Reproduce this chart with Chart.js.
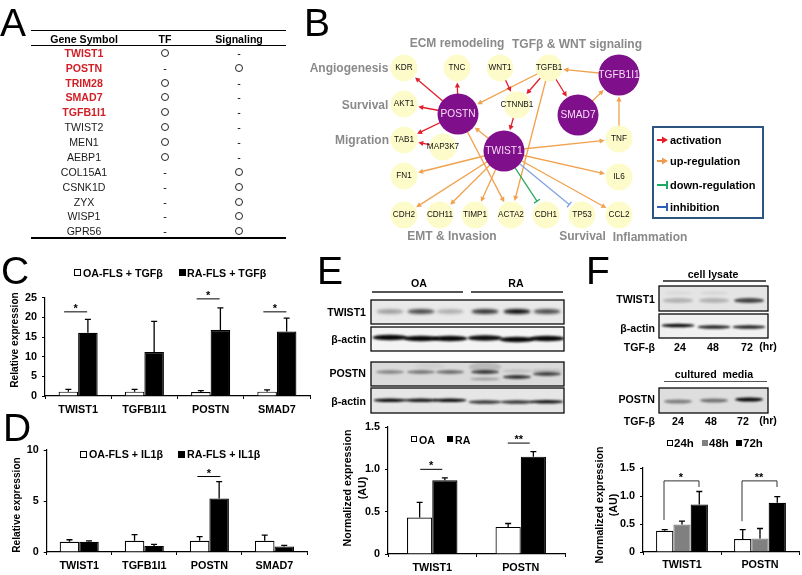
<!DOCTYPE html>
<html><head><meta charset="utf-8">
<script src="https://cdn.jsdelivr.net/npm/chart.js@4"></script>
<style>
html,body{margin:0;padding:0;background:#fff;overflow:hidden}
#page{position:relative;width:802px;height:575px;font-family:"Liberation Sans",Arial,sans-serif;color:#000;filter:blur(.35px);overflow:hidden}
#page canvas{position:absolute}
.t{position:absolute;white-space:nowrap;line-height:1}
.l{position:absolute;background:#000}
.sq{position:absolute;box-sizing:border-box;border:1px solid #000}
.o{position:absolute;box-sizing:border-box;width:8px;height:8px;border:1px solid #222;border-radius:50%}
</style></head><body><div id="page"></div>
<script>
// ---------- Panel A ----------
const tableGenes=['TWIST1','POSTN','TRIM28','SMAD7','TGFB1I1','TWIST2','MEN1','AEBP1','COL15A1','CSNK1D','ZYX','WISP1','GPR56'];
const tableHighlighted=5;
const tableTF=[1,0,1,1,1,1,1,1,0,0,0,0,0];
const tableSignaling=[0,1,0,0,0,0,0,0,1,1,1,1,1];
// ---------- Panel C ----------
const cCategories=['TWIST1','TGFB1I1','POSTN','SMAD7'];
const cOA=[1.1,1.1,1.0,1.1], cOATop=[1.7,1.7,1.35,1.55];
const cRA=[16.1,11.2,16.8,16.4], cRATop=[19.5,19.0,22.4,19.8];
const cTicks=[0,5,10,15,20,25];
// ---------- Panel D ----------
const dOA=[1.0,1.1,1.1,1.1], dOATop=[1.2,1.7,1.5,1.65];
const dRA=[1.0,0.6,5.25,0.55], dRATop=[1.1,0.75,6.9,0.65];
const dTicks=[0,5,10];
// ---------- Panel E ----------
const eCategories=['TWIST1','POSTN'];
const eOA=[0.43,0.32], eOATop=[0.61,0.36];
const eRA=[0.87,1.15], eRATop=[0.90,1.21];
const eTicks=[0,0.5,1,1.5];
// ---------- Panel F ----------
const f24=[0.38,0.23], f24Top=[0.40,0.40];
const f48=[0.49,0.24], f48Top=[0.55,0.42];
const f72=[0.85,0.88], f72Top=[1.08,0.99];
// ---------- Panel B ----------
const nodeNames=['KDR','TNC','WNT1','TGFB1','AKT1','CTNNB1','TAB1','MAP3K7','TNF','FN1','IL6','CDH2','CDH11','TIMP1','ACTA2','CDH1','TP53','CCL2','TGFB1I1','POSTN','SMAD7','TWIST1'];
const nodeX=[404,457,500,549,404,517,404,443,619,404,619,404,440,475,511,546,582,619,619,458,578,504];
const nodeY=[68,68,68,68,104,105,140,147,139,176,177,215,215,215,215,215,215,215,75,114,115,151];
const hubNames=['TGFB1I1','POSTN','SMAD7','TWIST1'];
const activationEdges=[['POSTN','KDR'],['POSTN','TNC'],['POSTN','AKT1'],['POSTN','TAB1'],['WNT1','CTNNB1'],['TGFB1','CTNNB1'],['TGFB1','SMAD7'],['CTNNB1','TWIST1'],['MAP3K7','TAB1']];
const upEdges=[['TGFB1I1','TGFB1'],['TGFB1','POSTN'],['TGFB1','ACTA2'],['SMAD7','TGFB1I1'],['TNF','TGFB1I1'],['TWIST1','POSTN'],['POSTN','ACTA2'],['TWIST1','TNF'],['TWIST1','FN1'],['TWIST1','IL6'],['TWIST1','CDH2'],['TWIST1','CDH11'],['TWIST1','TIMP1'],['TWIST1','CCL2']];
const downEdges=[['TWIST1','CDH1']];
const inhibitEdges=[['TWIST1','TP53']];
const groupLabels=['ECM remodeling','TGFβ & WNT signaling','Angiogenesis','Survival','Migration','EMT & Invasion','Survival','Inflammation'];
const legendLabels=['activation','up-regulation','down-regulation','inhibition'];

const page=document.getElementById('page');
function T(s,x,y,o={}){const d=document.createElement('div');d.className='t';d.textContent=s;
 const ax=o.a==='r'?'-100%':o.a==='l'?'0':'-50%';
 d.style.cssText=`left:${x}px;top:${y}px;font-size:${o.s||10.6}px;font-weight:${o.b===false?'normal':'bold'};color:${o.c||'#000'};transform:translate(${ax},-50%)${o.rot?' rotate(-90deg)':''};${o.ls?'letter-spacing:'+o.ls+'px;':''}`;
 page.appendChild(d);return d;}
function L(x,y,w,h,c){const d=document.createElement('div');d.className='l';d.style.cssText=`left:${x}px;top:${y}px;width:${w}px;height:${h}px;background:${c||'#000'}`;page.appendChild(d);}
function SQ(x,y,w,fill,border){const d=document.createElement('div');d.className='sq';d.style.cssText=`left:${x}px;top:${y}px;width:${w}px;height:${w}px;background:${fill};border-color:${border||'#000'}`;page.appendChild(d);}

// panel letters
[['A',0,21.5],['B',304,21.5],['C',1,270],['D',3,427],['E',317,270],['F',586,270]].forEach(p=>T(p[0],p[1],p[2],{a:'l',s:39,b:false}));

// ---- table A
L(31,30,255,1.3);L(31,44.6,255,1.3);L(31,237.4,255,1.5);
T('Gene Symbol',84,38.5);T('TF',165,38.5);T('Signaling',239,38.5);
tableGenes.forEach((g,i)=>{const y=52.8+i*14.87;
 T(g,84,y,{b:i<tableHighlighted,c:i<tableHighlighted?'#d11f26':'#1a1a1a'});
 [[165,tableTF[i]],[239,tableSignaling[i]]].forEach(([x,v])=>{
  if(v){const o=document.createElement('div');o.className='o';o.style.left=(x-4)+'px';o.style.top=(y-4)+'px';page.appendChild(o);}
  else T('-',x,y,{b:false});});});

// ---- western blot images (band darkness per lane)
const blots=document.createElement('canvas');blots.width=802;blots.height=575;blots.style.left='0';blots.style.top='0';page.appendChild(blots);
const eLanes=[390,421,450,485,517,547], fLanes=[678,714,749];
const blotTwistE=[.32,.7,.25,.8,.98,.7], blotActinE1=[1,1,1,.98,1,1], blotPostnE=[.38,.45,.5,.75,.8,.72], blotActinE2=[1,.95,1,.8,.8,.95];
const blotTwistF=[.22,.22,.72], blotActinF=[1,.9,.9], blotPostnF=[.45,.5,1];
function blot(x,y,w,h,bg,laneX,vals,cy,bw,bh,off,extra,blur){const c=blots.getContext('2d');c.save();
 c.beginPath();c.rect(x,y,w,h);c.clip();c.fillStyle=bg;c.fillRect(x,y,w,h);
 c.filter=`blur(${blur||1}px)`;
 (extra||[]).forEach(e=>{c.fillStyle=`rgba(20,20,20,${e[4]})`;c.beginPath();c.ellipse(e[0],e[1],e[2]/2,e[3]/2,0,0,Math.PI*2);c.fill();});
 laneX.forEach((lx,i)=>{const v=vals[i];c.fillStyle=`rgba(8,8,8,${v})`;c.beginPath();
  c.ellipse(lx,cy+(off?off[i]:0),bw/2,bh/2,0,0,Math.PI*2);c.fill();});
 c.restore();c.save();c.strokeStyle='#0a0a0a';c.lineWidth=1.3;c.strokeRect(x,y,w,h);c.restore();}
blot(371,300,193,24,'#e9e9e9',eLanes,blotTwistE,311.5,27,5,[0,0,0,0,0,0],null,1.4);
blot(371,327,193,24,'#f4f4f4',eLanes,blotActinE1,338.5,35,5.5,[-1,0,0,-.5,1,0]);
blot(371,362,193,24,'#dadada',eLanes,blotPostnE,372,28,3.8,[0,0,0,0,5,2],[[485,367,32,9,.16],[485,379,30,3,.3],[517,371,30,3,.15],[547,371,30,4,.15],[430,366,30,6,.05]],1.1);
blot(371,388,193,25,'#e6e6e6',eLanes,blotActinE2,401,33,3.6,[-.8,-.8,-.8,1,1,.8]);
blot(659,286,109,25,'#e4e4e4',fLanes,blotTwistF,300.5,30,5,null,[[678,293,28,3,.05],[714,293,28,3,.07]],1.3);
blot(659,314,109,24,'#f1f1f1',fLanes,blotActinF,326.5,33,3.6,[-1,.5,.5]);
blot(659,388,109,25,'#dedede',fLanes,blotPostnF,400.5,28,4,[1,0,-1],null,1);

// panel E labels
T('OA',419,283);T('RA',516,283);L(372,291.3,91,1.4,'#555');L(471,291.3,92,1.4,'#555');
T('TWIST1',366,312,{a:'r'});T('β-actin',366,339,{a:'r'});T('POSTN',366,373,{a:'r'});T('β-actin',366,401,{a:'r'});
// panel F labels
T('cell lysate',713,274);L(663,280.3,103,1.3,'#555');
T('TWIST1',655,299,{a:'r'});T('β-actin',655,328,{a:'r'});T('TGF-β',655,347,{a:'r'});
T('24',680,347);T('48',713,347);T('72',747,347);T('(hr)',768,346);
T('cultured\u00a0\u00a0media',714,374);L(664,380.6,103,1.3,'#555');
T('POSTN',655,399,{a:'r'});T('TGF-β',655,421,{a:'r'});
T('24',678,421);T('48',711,421);T('72',743,421);T('(hr)',768,420);

// legends
SQ(74,269,7,'#fff');T('OA-FLS + TGFβ',83,272.7,{a:'l',s:10.7});
SQ(179,269,7,'#000');T('RA-FLS + TGFβ',187,272.7,{a:'l',s:10.7});
SQ(80,450.5,7,'#fff');T('OA-FLS + IL1β',89,454.3,{a:'l',s:10.7});
SQ(178,450.5,7,'#000');T('RA-FLS + IL1β',187,454.3,{a:'l',s:10.7});
SQ(411,436,6,'#fff');T('OA',419,439.5,{a:'l'});
SQ(447,436,6,'#000');T('RA',455,439.5,{a:'l'});
SQ(667,440,6,'#fff');T('24h',674,443.5,{a:'l',s:11.5});
SQ(702,440,6,'#808080','#808080');T('48h',709,443.5,{a:'l',s:11.5});
SQ(736,440,6,'#000');T('72h',743,443.5,{a:'l',s:11.5});
// y titles
T('Relative expression',15,340,{rot:1,s:10.2});
T('Relative expression',17,504.5,{rot:1,s:10.2});
T('Normalized expression',347,488,{rot:1,s:10.7});T('(AU)',362,488,{rot:1,s:10.7});
T('Normalized expression',599,505,{rot:1,s:10.7});T('(AU)',613,505,{rot:1,s:10.7});

// ---- plugins
const errorBars={id:'errorBars',afterDatasetsDraw(ch){const c=ch.ctx;c.save();c.strokeStyle='#000';c.lineWidth=1.3;
 ch.data.datasets.forEach((ds,di)=>{ch.getDatasetMeta(di).data.forEach((b,i)=>{
  const top=ch.scales.y.getPixelForValue(ds.errTop[i]);
  c.beginPath();c.moveTo(b.x,b.y);c.lineTo(b.x,top);c.moveTo(b.x-3,top);c.lineTo(b.x+3,top);c.stroke();});});
 c.restore();}};
const sigLines={id:'sigLines',afterDraw(ch,a,opt){const c=ch.ctx;c.save();c.strokeStyle='#000';c.fillStyle='#000';c.lineWidth=1;c.font='bold 11px "Liberation Sans"';c.textAlign='center';c.textBaseline='alphabetic';
 (opt.bars||[]).forEach(s=>{const cx=ch.scales.x.getPixelForValue(s.cat)+s.dx,y=ch.scales.y.getPixelForValue(s.level);
  c.beginPath();c.moveTo(cx-s.w/2,y);c.lineTo(cx+s.w/2,y);c.stroke();c.fillText(s.mark,cx,y+s.up);});
 (opt.brackets||[]).forEach(s=>{const cx=ch.scales.x.getPixelForValue(s.cat),Y=ch.scales.y,l=cx+s.left,r=cx+s.right;
  c.beginPath();c.moveTo(l,Y.getPixelForValue(s.from));c.lineTo(l,Y.getPixelForValue(s.top));c.lineTo(r,Y.getPixelForValue(s.top));c.lineTo(r,Y.getPixelForValue(s.to));c.strokeStyle='#333';c.stroke();
  c.fillText(s.mark,cx+s.dx,Y.getPixelForValue(s.top)+s.up);});
 c.restore();}};

function barChart(rect,plot,labels,series,ticks,yMax,frac,sig){
 const cv=document.createElement('canvas');cv.style.left=rect[0]+'px';cv.style.top=rect[1]+'px';cv.style.width=rect[2]+'px';cv.style.height=rect[3]+'px';cv.width=rect[2];cv.height=rect[3];page.appendChild(cv);
 const font={family:'"Liberation Sans"',size:10.8,weight:'bold'};
 return new Chart(cv,{type:'bar',data:{labels,datasets:series.map(s=>({label:s.label,data:s.data,errTop:s.top,backgroundColor:s.fill,borderColor:s.border||'#000',borderWidth:1.2,barPercentage:1,categoryPercentage:frac}))},
 options:{responsive:false,animation:false,layout:{autoPadding:false,padding:{left:0,top:plot.top-rect[1],right:rect[0]+rect[2]-plot.right,bottom:0}},
  plugins:{legend:{display:false},title:{display:false},tooltip:{enabled:false},sigLines:sig},
  scales:{x:{afterFit(s){s.height=rect[1]+rect[3]-plot.bottom},grid:{display:true,drawOnChartArea:false,color:'#000',tickLength:3,lineWidth:1},border:{color:'#000',width:1.2},ticks:{color:'#000',font,autoSkip:false,maxRotation:0,padding:plot.xpad}},
   y:{min:0,max:yMax,afterFit(s){s.width=plot.left-rect[0]},afterBuildTicks(s){s.ticks=ticks.map(v=>({value:v}))},grid:{display:true,drawOnChartArea:false,color:'#000',tickLength:3,lineWidth:1},border:{color:'#000',width:1.2},ticks:{color:'#000',font,padding:5}}}},
 plugins:[errorBars,sigLines]});
}
barChart([0,285,330,130],{left:45,right:310,top:297.7,bottom:396,xpad:5},cCategories,
 [{label:'OA-FLS + TGFβ',data:cOA,top:cOATop,fill:'#fff'},{label:'RA-FLS + TGFβ',data:cRA,top:cRATop,fill:'#000'}],cTicks,25,.59,
 {bars:[{cat:0,dx:-2.5,w:23,level:21.4,mark:'*',up:0},{cat:2,dx:-2.5,w:23,level:24.7,mark:'*',up:0},{cat:3,dx:-2,w:23,level:21.4,mark:'*',up:0}]});
barChart([0,438,330,135],{left:46.7,right:307,top:450,bottom:552,xpad:5},cCategories,
 [{label:'OA-FLS + IL1β',data:dOA,top:dOATop,fill:'#fff'},{label:'RA-FLS + IL1β',data:dRA,top:dRATop,fill:'#000'}],dTicks,10,.6,
 {bars:[{cat:2,dx:-.5,w:23,level:7.4,mark:'*',up:0}]});
barChart([350,415,225,160],{left:388,right:565,top:427,bottom:554,xpad:5},eCategories,
 [{label:'OA',data:eOA,top:eOATop,fill:'#fff'},{label:'RA',data:eRA,top:eRATop,fill:'#000'}],eTicks,1.5,.57,
 {bars:[{cat:0,dx:-1,w:22,level:1.0,mark:'*',up:0},{cat:1,dx:-2,w:22,level:1.31,mark:'**',up:0}]});
barChart([600,456,202,119],{left:643,right:799,top:468,bottom:552,xpad:4},eCategories,
 [{label:'24h',data:f24,top:f24Top,fill:'#fff'},{label:'48h',data:f48,top:f48Top,fill:'#808080',border:'#808080'},{label:'72h',data:f72,top:f72Top,fill:'#000'}],eTicks,1.5,.665,
 {brackets:[{cat:0,left:-18,right:17,from:.57,top:1.27,to:1.16,mark:'*',dx:-1,up:0},{cat:1,left:-18,right:17,from:.55,top:1.27,to:1.16,mark:'**',dx:-1,up:0}]});

// ---- network B
const C_RED='#e1202c',C_ORG='#f0a24e',C_GRN='#2aa85a',C_BLU='#7fa3e0';
const cvN=document.createElement('canvas');cvN.style.left='300px';cvN.style.top='0';cvN.width=502;cvN.height=250;cvN.style.width='502px';cvN.style.height='250px';page.appendChild(cvN);
const idx=n=>nodeNames.indexOf(n), isHub=n=>hubNames.includes(n), rad=n=>isHub(n)?20.5:13.5;
const netPlugin={id:'net',
 beforeDatasetsDraw(ch){const c=ch.ctx,X=ch.scales.x,Y=ch.scales.y;
  const draw=(edges,col,kind)=>edges.forEach(([a,b])=>{const i=idx(a),j=idx(b);
   const x1=X.getPixelForValue(nodeX[i]),y1=Y.getPixelForValue(nodeY[i]),x2=X.getPixelForValue(nodeX[j]),y2=Y.getPixelForValue(nodeY[j]);
   const d=Math.hypot(x2-x1,y2-y1),ux=(x2-x1)/d,uy=(y2-y1)/d,tx=x2-ux*(rad(b)+1),ty=y2-uy*(rad(b)+1);
   c.strokeStyle=col;c.fillStyle=col;c.lineWidth=1.3;c.beginPath();c.moveTo(x1,y1);c.lineTo(tx-ux*2,ty-uy*2);c.stroke();
   if(kind==='arrow'){c.beginPath();c.moveTo(tx,ty);c.lineTo(tx-ux*5-uy*2.6,ty-uy*5+ux*2.6);c.lineTo(tx-ux*5+uy*2.6,ty-uy*5-ux*2.6);c.closePath();c.fill();}
   else{c.beginPath();c.moveTo(tx-ux*2-uy*3.5,ty-uy*2+ux*3.5);c.lineTo(tx-ux*2+uy*3.5,ty-uy*2-ux*3.5);c.stroke();}});
  c.save();draw(upEdges,C_ORG,'arrow');draw(activationEdges,C_RED,'arrow');draw(downEdges,C_GRN,'bar');draw(inhibitEdges,C_BLU,'bar');c.restore();},
 afterDatasetsDraw(ch){const c=ch.ctx,X=ch.scales.x,Y=ch.scales.y;c.save();c.textAlign='center';c.textBaseline='middle';
  nodeNames.forEach((n,i)=>{const hub=isHub(n);c.font=hub?'10.2px "Liberation Sans"':'8.2px "Liberation Sans"';c.fillStyle=hub?'#f6dcf6':'#111';c.fillText(n,X.getPixelForValue(nodeX[i]),Y.getPixelForValue(nodeY[i]));});
  // legend glyphs
  const cols=[C_RED,'#f09a50','#1fa860','#2f5fb8'],ly=[140,161,185,207];
  cols.forEach((col,i)=>{const y=Y.getPixelForValue(ly[i]),x=X.getPixelForValue(657);c.fillStyle=col;c.strokeStyle=col;c.lineWidth=2;c.beginPath();c.moveTo(x,y);
   if(i<2){c.lineTo(x+7,y);c.stroke();c.beginPath();c.moveTo(x+11,y);c.lineTo(x+5,y-3.5);c.lineTo(x+5,y+3.5);c.closePath();c.fill();}
   else{c.lineTo(x+10,y);c.moveTo(x+10,y-4);c.lineTo(x+10,y+4);c.stroke();}});
  c.restore();}};
new Chart(cvN,{type:'bubble',data:{datasets:[{label:'genes',data:nodeNames.map((n,i)=>({x:nodeX[i],y:nodeY[i],r:rad(n)})),
  backgroundColor:nodeNames.map(n=>isHub(n)?'#7f0f8a':'#fdfbc9'),borderColor:nodeNames.map(n=>isHub(n)?'#7f0f8a':'#fdfbc9'),borderWidth:0}]},
 options:{responsive:false,animation:false,layout:{autoPadding:false,padding:0},plugins:{legend:{display:false},tooltip:{enabled:false}},
  scales:{x:{type:'linear',display:false,min:300,max:802},y:{type:'linear',display:false,min:0,max:250,reverse:true}}},plugins:[netPlugin]});

const gOpt={c:'#8a8a8a',s:12};
[[457,43],[577,44],[349,68],[365,105],[362,140],[452,236],[582.5,236],[650,237]].forEach((p,i)=>T(groupLabels[i],p[0],p[1],gOpt));
const box=document.createElement('div');box.style.cssText='position:absolute;left:652px;top:126px;width:108px;height:89px;border:2px solid #2c5680';page.appendChild(box);
[140,161,185,207].forEach((y,i)=>T(legendLabels[i],670,y,{a:'l',s:11}));
</script></body></html>
